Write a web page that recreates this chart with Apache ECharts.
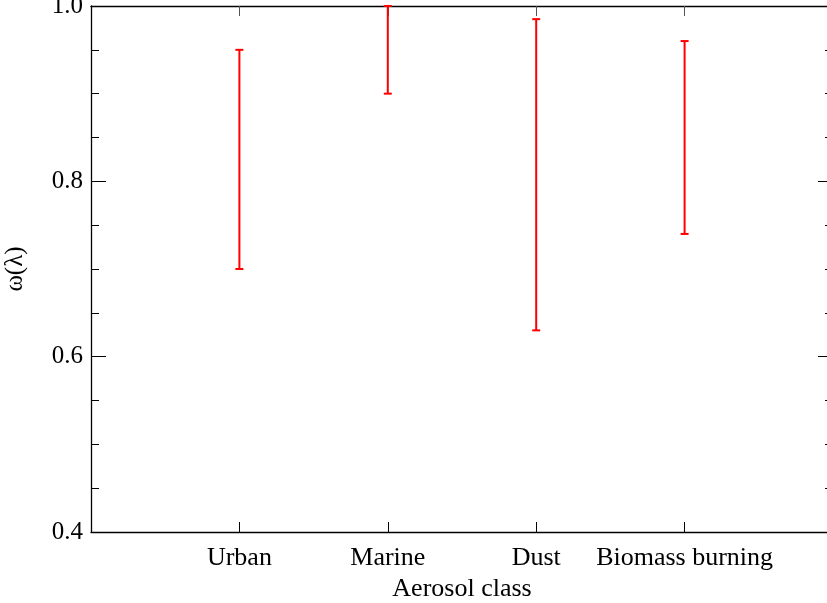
<!DOCTYPE html>
<html>
<head>
<meta charset="utf-8">
<script src="https://cdn.jsdelivr.net/npm/echarts@6/dist/echarts.min.js"></script>
<style>
html,body{margin:0;padding:0;background:#fff;}
#main{width:827px;height:603px;}
</style>
</head>
<body>
<div id="main"></div>
<script>
var categories = ['Urban', 'Marine', 'Dust', 'Biomass burning'];
var positions = [1, 2, 3, 4];
var lowValues = [0.70, 0.90, 0.63, 0.74];
var highValues = [0.95, 1.00, 0.985, 0.96];
var yTicks = [0.4, 0.6, 0.8, 1.0];
var yMinorTicks = [0.45, 0.5, 0.55, 0.65, 0.7, 0.75, 0.85, 0.9, 0.95];

var FONT = 'Liberation Serif';
var chart = echarts.init(document.getElementById('main'), null, {renderer: 'canvas'});

var data = positions.map(function (p, i) { return [p, lowValues[i], highValues[i]]; });

var axisLine = {show: true, lineStyle: {color: '#000', width: 1.3}};
var noLine = {show: false};

function yAx(pos, values, len, showLine, labels, name) {
  var a = {
    type: 'value', position: pos, min: 0.4, max: 1.0, interval: 0.05,
    axisLine: showLine ? axisLine : noLine,
    axisTick: {show: true, inside: true, length: len, customValues: values, lineStyle: {color: '#000', width: 1}},
    axisLabel: {show: false},
    splitLine: {show: false}
  };
  if (labels) {
    a.axisLabel = {show: true, customValues: yTicks, margin: 8, color: '#000', fontFamily: FONT, fontSize: 25,
      formatter: function (v) { return v.toFixed(1); }};
    a.name = name; a.nameLocation = 'middle'; a.nameGap = 63;
    a.nameTextStyle = {color: '#000', fontFamily: FONT, fontSize: 25};
  }
  return a;
}

chart.setOption({
  backgroundColor: '#fff',
  animation: false,
  grid: {left: 91, top: 6, right: -6, bottom: 71, containLabel: false, outerBoundsMode: 'none'},
  xAxis: [{
    type: 'value', position: 'bottom', min: 0, max: 5, interval: 1,
    axisLine: axisLine,
    axisTick: {show: true, inside: true, length: 10, customValues: positions, lineStyle: {color: '#000', width: 1}},
    axisLabel: {show: true, customValues: positions, margin: 13, color: '#000', fontFamily: FONT, fontSize: 26,
      formatter: function (v) { var i = positions.indexOf(Math.round(v)); return i >= 0 ? categories[i] : ''; }},
    splitLine: {show: false},
    name: 'Aerosol class', nameLocation: 'middle', nameGap: 41,
    nameTextStyle: {color: '#000', fontFamily: FONT, fontSize: 26}
  }, {
    type: 'value', position: 'top', min: 0, max: 5, interval: 1,
    axisLine: axisLine,
    axisTick: {show: true, inside: true, length: 10, customValues: positions, lineStyle: {color: '#555', width: 1}},
    axisLabel: {show: false},
    splitLine: {show: false}
  }],
  yAxis: [
    yAx('left', yTicks, 15, true, true, 'ω(λ)'),
    yAx('left', yMinorTicks, 8, false, false),
    yAx('right', yTicks, 15, true, false),
    yAx('right', yMinorTicks, 8, false, false)
  ],
  series: [{
    type: 'custom',
    xAxisIndex: 0, yAxisIndex: 0,
    data: data,
    renderItem: function (params, api) {
      var x = api.value(0);
      var lo = api.coord([x, api.value(1)]);
      var hi = api.coord([x, api.value(2)]);
      var hw = 4;
      var style = {stroke: '#ff0000', lineWidth: 2};
      return {
        type: 'group',
        children: [
          {type: 'line', shape: {x1: lo[0], y1: lo[1], x2: hi[0], y2: hi[1]}, style: style},
          {type: 'line', shape: {x1: lo[0] - hw, y1: lo[1], x2: lo[0] + hw, y2: lo[1]}, style: style},
          {type: 'line', shape: {x1: hi[0] - hw, y1: hi[1], x2: hi[0] + hw, y2: hi[1]}, style: style}
        ]
      };
    },
    clip: false
  }]
});
</script>
</body>
</html>
